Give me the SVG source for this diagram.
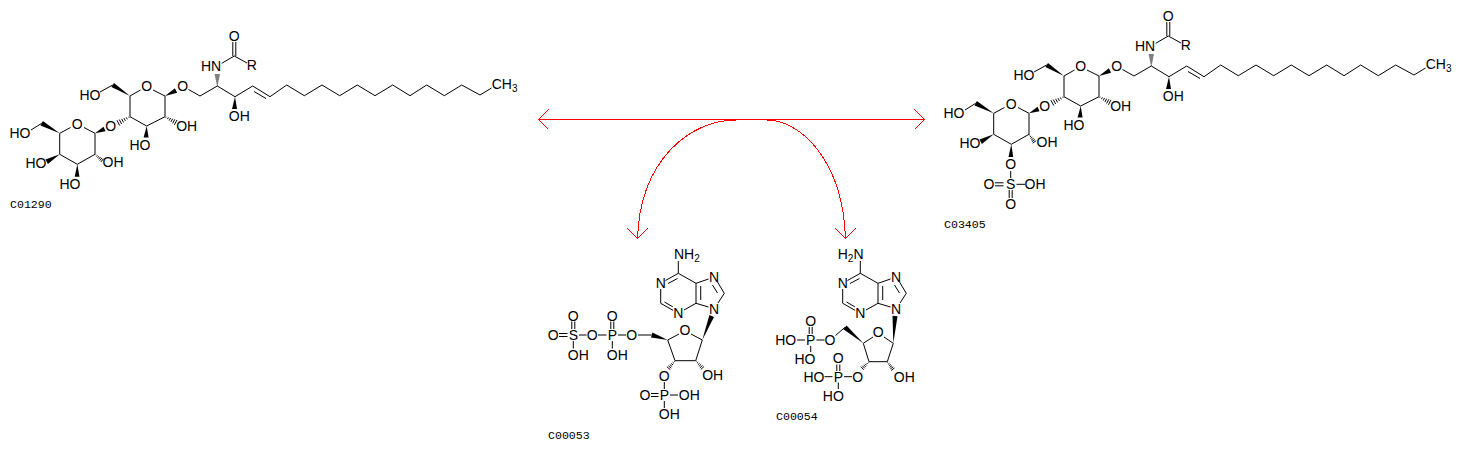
<svg xmlns="http://www.w3.org/2000/svg" xmlns:xlink="http://www.w3.org/1999/xlink" width="1463" height="449" viewBox="0 0 1463 449">
<style>
text{font-family:"Liberation Sans",Arial,sans-serif;font-size:14px;fill:#000}
.a{text-anchor:middle}
.s{font-size:10px}
.id{font-family:"Liberation Mono","DejaVu Sans Mono",monospace;font-size:11.6px}
.b{stroke:#000;stroke-width:1;fill:none}
.w{fill:#000;stroke:none}
.h{stroke:#000;stroke-width:1;fill:none;vector-effect:non-scaling-stroke}
.c{stroke:#f00;stroke-width:1;fill:none;shape-rendering:crispEdges}
</style>
<defs>
<path id="hash" class="h" d="M1 -.5V.5M3 -.9V.9M5 -1.3V1.3M7 -1.7V1.7M9 -2.1V2.1M11 -2.5V2.5"/>
<marker id="open" markerUnits="userSpaceOnUse" markerWidth="24" markerHeight="24" refX="11" refY="11" orient="auto-start-reverse" overflow="visible">
<path d="M1 1L11 11L1 21" stroke="#f00" fill="none" shape-rendering="crispEdges"/>
</marker>
<marker id="down" markerUnits="userSpaceOnUse" markerWidth="24" markerHeight="24" refX="11" refY="11" orient="90" overflow="visible">
<path d="M1 1L11 11L1 21" stroke="#f00" fill="none" shape-rendering="crispEdges"/>
</marker>
</defs>
<g id="connectors">
<path class="c" marker-start="url(#open)" marker-end="url(#open)" d="M538.5 119.5H924.5"/>
<path class="c" marker-end="url(#down)" d="M736 120C690 120 640 160 637.500 238.500"/>
<path class="c" marker-end="url(#down)" d="M767 120C800 120 843 160 845.500 238.500"/>
</g>
<g id="C01290">
<path class="b" d="M59.7 133.3L70.5 127.5M84 127.5L95 133.3V154.3L77.3 164.3L59.7 154.3V133.3M41.7 123.3L31 130M130 96L140.5 90M153 90L165 96V116.7L146.7 126L130 116.7V96M112.7 85L100 92M188.5 89.5L200 96L217.3 86L235 96.7L252.7 86L270 96.7L286.7 85L304.3 95.7L322 85L339.7 95.7L357.3 85L375 95.7L392.7 85L410 95.7L426.7 85L444.3 95.7L461.7 85L480 95L491.5 88M254 91.5L266 98.5M221.7 63.3L234.3 56L247 63M232.8 56V42M235.8 56V42"/>
<polygon class="w" points="59.7,133.3 42.9,121.1 40.5,125.5"/>
<polygon class="w" points="59.7,154.3 47.9,163.9 45.5,159.5"/>
<polygon class="w" points="77.3,164.3 79.5,176.7 74.7,176.7"/>
<polygon class="w" points="95,133.3 105.5,131.3 103.5,126.7"/>
<polygon class="w" points="130,96 114,82.9 111.4,87.1"/>
<polygon class="w" points="146.7,126 148.6,137.5 143.6,137.5"/>
<polygon class="w" points="165,96 177.1,92.7 174.9,88.3"/>
<polygon class="w" points="235,96.7 237,109 232,109"/>
<use xlink:href="#hash" href="#hash" transform="translate(95 154.3) rotate(40) scale(.85)"/>
<use xlink:href="#hash" href="#hash" transform="translate(130 116.7) rotate(152) scale(1.2)"/>
<use xlink:href="#hash" href="#hash" transform="translate(165 116.7) rotate(28) scale(1.1)"/>
<use xlink:href="#hash" href="#hash" transform="translate(217.3 86) rotate(-90)"/>
<text class="a" x="77.3" y="129">O</text>
<text class="a" x="20" y="138">HO</text>
<text class="a" x="36" y="168">HO</text>
<text class="a" x="70" y="189">HO</text>
<text class="a" x="113" y="167.300">OH</text>
<text class="a" x="110.7" y="130.700">O</text>
<text class="a" x="146.7" y="90.700">O</text>
<text class="a" x="90" y="100.300">HO</text>
<text class="a" x="140" y="150">HO</text>
<text class="a" x="186.700" y="131">OH</text>
<text class="a" x="182.700" y="91">O</text>
<text class="a" x="211" y="71">HN</text>
<text class="a" x="234.300" y="41">O</text>
<text class="a" x="251.700" y="70">R</text>
<text class="a" x="239.300" y="121">OH</text>
<text x="491.700" y="88.500">CH<tspan class="s" dy="3">3</tspan></text>
<text class="id" x="10" y="208">C01290</text>
</g>
<g id="C03405">
<g transform="translate(934 -20)">
<path class="b" d="M59.7 133.3L70.5 127.5M84 127.5L95 133.3V154.3L77.3 164.3L59.7 154.3V133.3M41.7 123.3L31 130M130 96L140.5 90M153 90L165 96V116.7L146.7 126L130 116.7V96M112.7 85L100 92M188.5 89.5L200 96L217.3 86L235 96.7L252.7 86L270 96.7L286.7 85L304.3 95.7L322 85L339.7 95.7L357.3 85L375 95.7L392.7 85L410 95.7L426.7 85L444.3 95.7L461.7 85L480 95L491.5 88M254 91.5L266 98.5M221.7 63.3L234.3 56L247 63M232.8 56V42M235.8 56V42M76.7 191V198M61 202.800H69.500M61 205.800H69.500M82.500 204.300H91M75.200 210V218M78.200 210V218"/>
<polygon class="w" points="59.7,133.3 42.9,121.1 40.5,125.5"/>
<polygon class="w" points="59.7,154.3 47.9,163.9 45.5,159.5"/>
<polygon class="w" points="77.3,164.3 79.2,177 74.5,177"/>
<polygon class="w" points="95,133.3 105.5,131.3 103.5,126.7"/>
<polygon class="w" points="130,96 114,82.9 111.4,87.1"/>
<polygon class="w" points="146.7,126 148.6,137.5 143.6,137.5"/>
<polygon class="w" points="165,96 177.1,92.7 174.9,88.3"/>
<polygon class="w" points="235,96.7 237,109 232,109"/>
<use xlink:href="#hash" href="#hash" transform="translate(95 154.3) rotate(55) scale(.85)"/>
<use xlink:href="#hash" href="#hash" transform="translate(130 116.7) rotate(152) scale(1.2)"/>
<use xlink:href="#hash" href="#hash" transform="translate(165 116.7) rotate(28) scale(1.1)"/>
<use xlink:href="#hash" href="#hash" transform="translate(217.3 86) rotate(-90)"/>
<text class="a" x="77.3" y="129">O</text>
<text class="a" x="20" y="138">HO</text>
<text class="a" x="36" y="168">HO</text>
<text class="a" x="113" y="167.300">OH</text>
<text class="a" x="110.7" y="130.700">O</text>
<text class="a" x="146.7" y="90.700">O</text>
<text class="a" x="90" y="100.300">HO</text>
<text class="a" x="140" y="150">HO</text>
<text class="a" x="186.700" y="131">OH</text>
<text class="a" x="182.700" y="91">O</text>
<text class="a" x="211" y="71">HN</text>
<text class="a" x="234.300" y="41">O</text>
<text class="a" x="251.700" y="70">R</text>
<text class="a" x="239.300" y="121">OH</text>
<text x="491.700" y="88.500">CH<tspan class="s" dy="3">3</tspan></text>
<text class="a" x="76.700" y="189.300">O</text>
<text class="a" x="76.700" y="209.300">S</text>
<text class="a" x="55" y="209.300">O</text>
<text class="a" x="101" y="209.300">OH</text>
<text class="a" x="76.700" y="229">O</text>
</g>
<text class="id" x="944" y="228">C03405</text>
</g>
<g id="C00053">
<path class="b" d="M678.3 273.3L665.5 280.5M677.500 278.500L668 283.500M660.7 289V303.300L673 310.300M664.500 302L672.800 306.800M684 310L696 303.300V283.300L678.300 273.300M700.700 286V300M696 283.300L708.500 279M717.500 282L724.300 293.300L718 303M712.500 285L717.500 293M708.500 307L696 303.300M678.300 273.300V261"/>
<path class="b" d="M702.300 340L691 334M679 334L667.700 340L675 360.700H695.700L702.300 340M651.700 335H638M626 335H618M610.800 321.500V329M613.800 321.500V329M612.300 341V348.500M606.500 335H598M586.500 335H579M571.800 321.500V329M574.800 321.500V329M559 333.500H567.500M559 336.500H567.500M573.300 341V348.500M664.300 382V389M651 393.500H658.500M651 396.500H658.500M670 395H678M664.300 401V408"/>
<polygon class="w" points="702.3,340 714,316.9 709.4,315.1"/>
<polygon class="w" points="667.7,340 652.4,332.6 651,337.4"/>
<use xlink:href="#hash" href="#hash" transform="translate(695.7 360.7) rotate(47) scale(.9)"/>
<use xlink:href="#hash" href="#hash" transform="translate(675 360.7) rotate(130) scale(.9)"/>
<text x="674" y="259">NH<tspan class="s" dy="3">2</tspan></text>
<text class="a" x="660.700" y="288.300">N</text>
<text class="a" x="678.300" y="317.700">N</text>
<text class="a" x="714" y="281.700">N</text>
<text class="a" x="714" y="314.300">N</text>
<text class="a" x="685" y="335">O</text>
<text class="a" x="712.700" y="380">OH</text>
<text class="a" x="664.300" y="381">O</text>
<text class="a" x="664.300" y="400">P</text>
<text class="a" x="645" y="400">O</text>
<text class="a" x="689.300" y="400">OH</text>
<text class="a" x="669.300" y="419.300">OH</text>
<text class="a" x="631.700" y="340">O</text>
<text class="a" x="612.300" y="340">P</text>
<text class="a" x="612.300" y="321">O</text>
<text class="a" x="617.300" y="360">OH</text>
<text class="a" x="592.300" y="340">O</text>
<text class="a" x="573.300" y="340">S</text>
<text class="a" x="573.300" y="321">O</text>
<text class="a" x="553.300" y="340">O</text>
<text class="a" x="578.300" y="360">OH</text>
<text class="id" x="548" y="439">C00053</text>
</g>
<g id="C00054">
<path class="b" d="M860.3 273.300L847.500 280.500M859.500 278.500L850 283.500M842.700 289V303.300L855 310.300M846.500 302L854.800 306.800M866 310L878 303.300V283.300L860.300 273.300M882.700 286V300M878 283.300L890.500 279M899.500 282L906.300 293.300L900 303M894.500 285L899.500 293M890.500 307L878 303.300M860.300 273.300V261"/>
<path class="b" d="M893.300 343.300L884 337M873 337L863.300 343.300L869 361.700H887.300L893.300 343.300M845 327.300L835.500 335.500M824.500 340H816.500M809.200 327V334M812.200 327V334M797 340H805M810.700 346V352M852 376.700H844M836.800 364.500V371M839.800 364.500V371M824.500 376.700H832.500M838.300 382.500V389"/>
<polygon class="w" points="893.3,343.3 897.5,316.2 892.5,315.8"/>
<polygon class="w" points="863.3,343.3 846.6,325.4 843.4,329.2"/>
<use xlink:href="#hash" href="#hash" transform="translate(887.3 361.7) rotate(54) scale(.85)"/>
<use xlink:href="#hash" href="#hash" transform="translate(869 361.7) rotate(136) scale(.85)"/>
<text x="837.700" y="259">H<tspan class="s" dy="3">2</tspan><tspan dy="-3">N</tspan></text>
<text class="a" x="842.700" y="288.300">N</text>
<text class="a" x="860.300" y="317.700">N</text>
<text class="a" x="896" y="281.700">N</text>
<text class="a" x="896" y="314.300">N</text>
<text class="a" x="878.300" y="337.300">O</text>
<text class="a" x="904.300" y="382">OH</text>
<text class="a" x="830" y="345">O</text>
<text class="a" x="810.700" y="345">P</text>
<text class="a" x="810.700" y="326">O</text>
<text class="a" x="785.700" y="345">HO</text>
<text class="a" x="805" y="364">HO</text>
<text class="a" x="857.700" y="381.700">O</text>
<text class="a" x="838.300" y="381.700">P</text>
<text class="a" x="838.300" y="363.300">O</text>
<text class="a" x="814" y="381.700">HO</text>
<text class="a" x="833.300" y="400.700">HO</text>
<text class="id" x="776" y="420">C00054</text>
</g>
</svg>
